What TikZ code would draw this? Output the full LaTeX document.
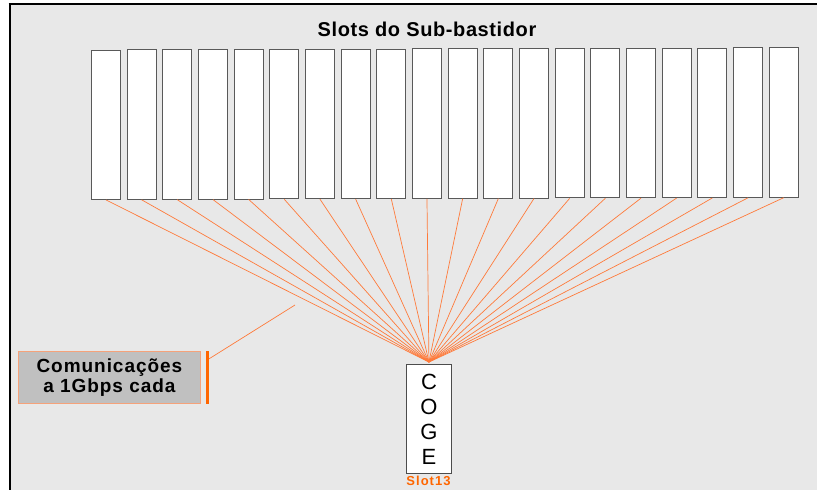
\documentclass[tikz,border=0pt]{standalone}
\usepackage{fontspec}
\setmainfont{Liberation Sans}
\newfontfamily\calloutfont[LetterSpace=5]{Liberation Sans}
\newfontfamily\titlefont[LetterSpace=3]{Liberation Sans}
\newfontfamily\labelfont[LetterSpace=8]{Liberation Sans}
\definecolor{bg}{HTML}{E8E8E8}
\definecolor{wirec}{HTML}{FF7A3A}
\definecolor{orng}{HTML}{FF6600}
\definecolor{lorng}{HTML}{F5A27A}
\definecolor{callfill}{HTML}{C0C0C0}
\begin{document}
\begin{tikzpicture}[x=1pt,y=-1pt,
  slotbox/.style={draw=black!65, line width=0.9pt, fill=white, minimum width=29pt, minimum height=149.5pt, inner sep=0pt, anchor=north west},
  wire/.style={draw=wirec, line width=0.7pt}]
\useasboundingbox (0,0) rectangle (817,490);
\fill[bg] (10,4) rectangle (817,490);
\draw[line width=2.2pt] (8.7,4.3) -- (817,4.3);
\draw[line width=2.5pt] (10,3.2) -- (10,490);
\node[font=\titlefont\bfseries\fontsize{20}{22}\selectfont] (title) at (427,29) {Slots do Sub-bastidor};
\foreach \i in {0,...,19}{
  \node[slotbox] (s\i) at ({91+35.67*\i},{49.5-0.116*\i}) {};
}
\node[draw=black!70, fill=white, line width=0.9pt, minimum width=45pt, minimum height=109pt, inner sep=0pt, anchor=north west, align=center, font=\fontsize{22}{25}\selectfont] (coge) at (406,364) {C\\O\\G\\E};
\foreach \i in {0,...,19}{
  \draw[wire] (s\i.south) -- ([yshift=2pt]coge.north);
}
\node[text=orng, font=\labelfont\bfseries\fontsize{13}{15}\selectfont] (slotlbl) at (428.5,481) {Slot13};
\node[fill=callfill, draw=lorng, line width=0.8pt, minimum width=182pt, minimum height=52pt, anchor=north west, inner sep=0pt, align=center, font=\calloutfont\bfseries\fontsize{19}{20}\selectfont] (call) at (18,351) {Comunicações\\a 1Gbps cada};
\node[fill=orng, minimum width=3pt, minimum height=52.5pt, inner sep=0pt, anchor=north west] (bar) at (205.7,350.8) {};
\coordinate (tip) at (295,305);
\draw[wire] ([yshift=-8pt]bar.north east) -- (tip);
\end{tikzpicture}
\end{document}
